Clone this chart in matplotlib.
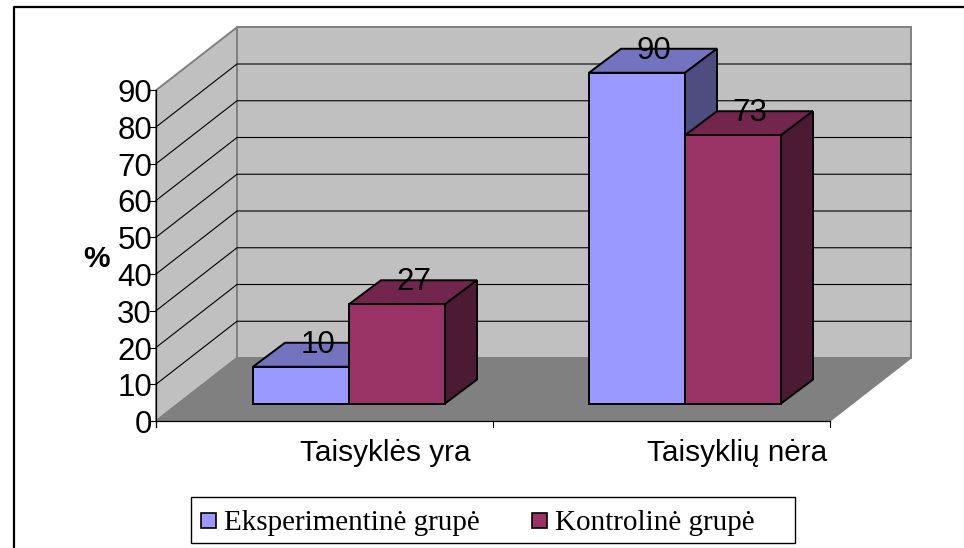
import matplotlib
matplotlib.use("Agg")
import matplotlib.pyplot as plt
from matplotlib.patches import Polygon, Rectangle

categories = ["Taisyklės yra", "Taisyklių nėra"]
series_names = ["Eksperimentinė grupė", "Kontrolinė grupė"]
eksperimentine = [10, 90]
kontroline = [27, 73]
y_ticks = [0, 10, 20, 30, 40, 50, 60, 70, 80, 90]

# picture geometry, in pixels
W, H = 964, 548
X0, X1, Y0 = 156, 830, 421   # front edge of the floor
DX, DY = 81, -63             # floor depth
PX_PER_UNIT = 3.675
BAR_W = 96
BAR_STARTS = [253, 589]
BAR_Y0 = 403.5
BAR_DX, BAR_DY = 32, -24

fig = plt.figure(figsize=(W / 100, H / 100), dpi=100)
ax = fig.add_axes([0, 0, 1, 1])
ax.set_xlim(0, W)
ax.set_ylim(H, 0)
ax.axis("off")


def poly(pts, face, edge, lw=1.0, z=1):
    ax.add_patch(Polygon(pts, closed=True, facecolor=face, edgecolor=edge, linewidth=lw, zorder=z, joinstyle="miter"))


def box(x, val, front, top, side):
    yt = BAR_Y0 - val * PX_PER_UNIT
    x2 = x + BAR_W
    poly([(x, yt), (x + BAR_DX, yt + BAR_DY), (x2 + BAR_DX, yt + BAR_DY), (x2, yt)], top, "black", 1.4, 3)
    poly([(x2, yt), (x2 + BAR_DX, yt + BAR_DY), (x2 + BAR_DX, BAR_Y0 + BAR_DY), (x2, BAR_Y0)], side, "black", 1.4, 3)
    poly([(x, yt), (x2, yt), (x2, BAR_Y0), (x, BAR_Y0)], front, "black", 1.4, 3)


# outer frame, only top and left show
ax.plot([13.5, 13.5, W], [H, 6.5, 6.5], color="black", lw=1.6, zorder=0)

# walls and floor
top_h = max(y_ticks) * PX_PER_UNIT
poly([(X0 + DX, Y0 + DY), (X1 + DX, Y0 + DY), (X1 + DX, Y0 + DY - top_h), (X0 + DX, Y0 + DY - top_h)], "#C0C0C0", "#808080", 1.4)
poly([(X0, Y0), (X0 + DX, Y0 + DY), (X0 + DX, Y0 + DY - top_h), (X0, Y0 - top_h)], "#C0C0C0", "#808080", 1.4)
poly([(X0, Y0), (X1, Y0), (X1 + DX, Y0 + DY), (X0 + DX, Y0 + DY)], "#808080", "#808080", 1.0)

# gridlines and y ticks
for t in y_ticks:
    y = Y0 - t * PX_PER_UNIT
    if 0 < t < max(y_ticks):
        ax.plot([X0, X0 + DX, X1 + DX], [y, y + DY, y + DY], color="black", lw=0.8, zorder=2)
    ax.plot([X0 - 6, X0], [y, y], color="black", lw=0.8, zorder=2)
    ax.text(X0 - 4, y + 4, str(t), ha="right", va="center", fontsize=22.5, family="Liberation Sans", zorder=5)

# axis lines
ax.plot([X0, X0], [Y0 + 6, Y0 - top_h], color="black", lw=0.9, zorder=2)
ax.plot([X0, X1], [Y0, Y0], color="black", lw=0.9, zorder=2)
for x in [X0, (X0 + X1) / 2, X1]:
    ax.plot([x, x], [Y0, Y0 + 6], color="black", lw=0.8, zorder=2)

ax.text(97, 259, "%", ha="center", va="center", fontsize=21.5, fontweight="bold", family="Liberation Sans")

# bars
for i, start in enumerate(BAR_STARTS):
    box(start, eksperimentine[i], "#9999FF", "#7373BF", "#4D4D80")
    box(start + BAR_W, kontroline[i], "#993366", "#73264D", "#4D1A33")
    for off, val in [(0, eksperimentine[i]), (BAR_W, kontroline[i])]:
        ax.text(start + off + BAR_W / 2 + 17, BAR_Y0 - val * PX_PER_UNIT - 22, str(val), ha="center", va="center",
                fontsize=22.5, family="Liberation Sans", zorder=6)

# category labels
for name, x in zip(categories, [385, 737]):
    ax.text(x, 453, name, ha="center", va="center", fontsize=21.4, family="Liberation Sans")

# legend
ax.add_patch(Rectangle((191, 497), 604, 46, facecolor="white", edgecolor="black", linewidth=1.0, zorder=4))
for name, sx, tx, col in zip(series_names, [201, 532], [224, 555], ["#9999FF", "#993366"]):
    ax.add_patch(Rectangle((sx, 513), 15, 15, facecolor=col, edgecolor="black", linewidth=1.2, zorder=5))
    ax.text(tx, 523, name, ha="left", va="center", fontsize=21, family="Liberation Serif", zorder=5)

fig.savefig("out.png", dpi=100)
